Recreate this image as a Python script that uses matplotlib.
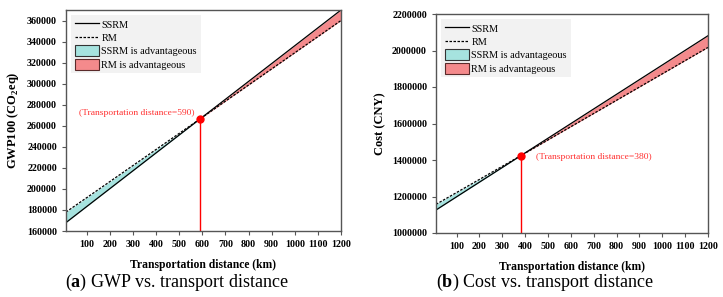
import numpy as np
import matplotlib.pyplot as plt
from matplotlib.patches import Patch
from matplotlib.lines import Line2D
from matplotlib.ticker import FormatStrFormatter

# panel (a): GWP100 vs transport distance
gwp_dist = [10, 590, 1200]
gwp_ssrm = [168000, 266500, 370000]
gwp_rm = [178000, 266500, 360000]
gwp_cross = 590

# panel (b): cost vs transport distance
cost_dist = [10, 380, 1200]
cost_ssrm = [1126000, 1423000, 2081000]
cost_rm = [1157000, 1423000, 2017000]
cost_cross = 380

xticks = list(range(100, 1300, 100))

plt.rcParams['font.family'] = ['Liberation Serif', 'DejaVu Serif']
plt.rcParams['mathtext.fontset'] = 'custom'
plt.rcParams['mathtext.rm'] = 'Liberation Serif'
plt.rcParams['mathtext.bf'] = 'Liberation Serif:bold'

CYAN = '#a6e3df'
RED = '#f48a8c'
SPINE = '#555555'


def draw_panel(ax, dist, ssrm, rm, cross, ylim, yticks, ylabel, txt_xy, txt_ha):
    dist = np.array(dist)
    ssrm = np.array(ssrm)
    rm = np.array(rm)
    ax.fill_between(dist, ssrm, rm, where=dist <= cross, color=CYAN, lw=0)
    ax.fill_between(dist, ssrm, rm, where=dist >= cross, color=RED, lw=0)
    ax.plot(dist, ssrm, color='black', lw=0.9)
    ax.plot(dist, rm, color='black', lw=0.9, ls=(0, (2, 1.2)))
    yc = ssrm[list(dist).index(cross)]
    ax.plot([cross, cross], [ylim[0], yc], color='red', lw=1.0)
    ax.plot([cross], [yc], 'o', color='red', ms=5)
    ax.text(txt_xy[0], txt_xy[1], "(Transportation distance=%d)" % cross,
            color='#ff3030', fontsize=6.8, ha=txt_ha, va='center')
    ax.set_xlim(10, 1200)
    ax.set_ylim(*ylim)
    ax.set_xticks(xticks)
    ax.set_yticks(yticks)
    ax.yaxis.set_major_formatter(FormatStrFormatter('%d'))
    ax.tick_params(labelsize=7.2, length=3, width=0.8, color=SPINE)
    for lab in ax.get_xticklabels() + ax.get_yticklabels():
        lab.set_fontweight('bold')
    for s in ax.spines.values():
        s.set_color(SPINE)
        s.set_linewidth(1.0)
    ax.set_xlabel("Transportation distance (km)", fontsize=8.4, fontweight='bold', labelpad=7)
    ax.set_ylabel(ylabel, fontsize=9, fontweight='bold', labelpad=4)
    handles = [
        Line2D([], [], color='black', lw=0.9),
        Line2D([], [], color='black', lw=0.9, ls=(0, (2, 1.2))),
        Patch(facecolor=CYAN, edgecolor='#333333', lw=0.8),
        Patch(facecolor=RED, edgecolor='#5a2a2a', lw=0.8),
    ]
    leg = ax.legend(handles, ["SSRM", "RM", "SSRM is advantageous", "RM is advantageous"],
                    loc='upper left', fontsize=7.4, frameon=True, fancybox=False,
                    handlelength=2.4, handleheight=1.3, handletextpad=0.2,
                    labelspacing=0.2, borderpad=0.35, borderaxespad=0.5)
    leg.get_frame().set_facecolor('#f2f2f2')
    leg.get_frame().set_edgecolor('none')
    leg.get_frame().set_alpha(1)


fig = plt.figure(figsize=(7.23, 2.97), dpi=100)
ax1 = fig.add_axes([66 / 723, 1 - 231 / 297, 275 / 723, 221 / 297])
ax2 = fig.add_axes([436 / 723, 1 - 233 / 297, 272 / 723, 219 / 297])

draw_panel(ax1, gwp_dist, gwp_ssrm, gwp_rm, gwp_cross, (160000, 370000),
           list(range(160000, 370000, 20000)), "GWP100 (CO$_\\mathbf{2}$eq)",
           (565, 272000), 'right')
draw_panel(ax2, cost_dist, cost_ssrm, cost_rm, cost_cross, (1000000, 2200000),
           list(range(1000000, 2200001, 200000)), "Cost (CNY)",
           (446, 1418000), 'left')

fig.text(177 / 723, 1 - 282 / 297, r"($\mathbf{a}$) GWP vs. transport distance",
         fontsize=13, ha='center', va='center')
fig.text(545 / 723, 1 - 282 / 297, r"($\mathbf{b}$) Cost vs. transport distance",
         fontsize=13, ha='center', va='center')

fig.savefig("out.png", dpi=100)
